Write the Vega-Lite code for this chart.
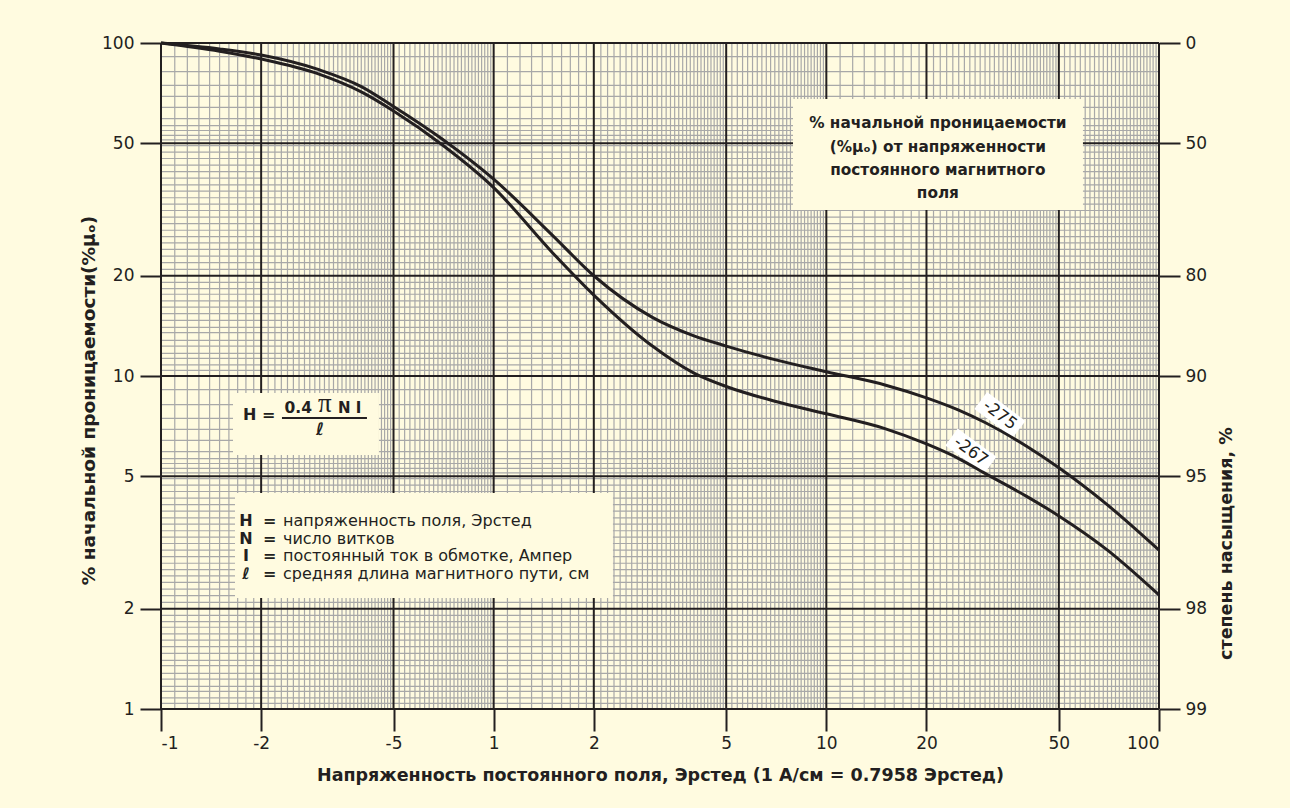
{
  "$schema": "https://vega.github.io/schema/vega-lite/v6.json",
  "width": 998,
  "height": 666,
  "autosize": {"type": "none"},
  "padding": {"left": 161, "top": 43, "right": 131, "bottom": 99},
  "background": "#fffbe0",
  "config": {
    "view": {"stroke": null},
    "font": "DejaVu Sans",
    "axis": {
      "labelFont": "DejaVu Sans",
      "labelFontSize": 17,
      "labelColor": "#231f20",
      "tickColor": "#231f20",
      "tickWidth": 2,
      "domain": false,
      "grid": false,
      "titleFont": "DejaVu Sans",
      "titleFontSize": 17.5,
      "titleFontWeight": "bold",
      "titleColor": "#231f20"
    }
  },
  "datasets": {
    "xminor": [0.11,0.12,0.13,0.14,0.15,0.16,0.17,0.18,0.19,0.21,0.22,0.23,0.24,0.25,0.26,0.27,0.28,0.29,0.3,0.31,0.32,0.33,0.34,0.35,0.36,0.37,0.38,0.39,0.4,0.41,0.42,0.43,0.44,0.45,0.46,0.47,0.48,0.49,0.52,0.54,0.56,0.58,0.6,0.62,0.64,0.66,0.68,0.7,0.72,0.74,0.76,0.78,0.8,0.82,0.84,0.86,0.88,0.9,0.92,0.94,0.96,0.98,
      1.1,1.2,1.3,1.4,1.5,1.6,1.7,1.8,1.9,2.1,2.2,2.3,2.4,2.5,2.6,2.7,2.8,2.9,3,3.1,3.2,3.3,3.4,3.5,3.6,3.7,3.8,3.9,4,4.1,4.2,4.3,4.4,4.5,4.6,4.7,4.8,4.9,5.2,5.4,5.6,5.8,6,6.2,6.4,6.6,6.8,7,7.2,7.4,7.6,7.8,8,8.2,8.4,8.6,8.8,9,9.2,9.4,9.6,9.8,
      11,12,13,14,15,16,17,18,19,21,22,23,24,25,26,27,28,29,30,31,32,33,34,35,36,37,38,39,40,41,42,43,44,45,46,47,48,49,52,54,56,58,60,62,64,66,68,70,72,74,76,78,80,82,84,86,88,90,92,94,96,98],
    "yminor": [1.04,1.08,1.13,1.17,1.23,1.28,1.35,1.4,1.47,1.54,1.61,1.68,1.76,1.83,1.91,
      2.09,2.19,2.29,2.4,2.51,2.62,2.74,2.87,3.0,3.14,3.28,3.43,3.59,3.75,3.93,4.11,4.3,4.5,4.7,4.92,
      5.12,5.28,5.46,5.65,5.93,6.41,6.91,7.46,8.2,9.1,
      10.4,10.8,11.3,11.7,12.3,12.8,13.5,14.0,14.7,15.4,16.1,16.8,17.6,18.3,19.1,
      20.9,21.9,22.9,24.0,25.1,26.2,27.4,28.7,30.0,31.4,32.8,34.3,35.9,37.5,39.3,41.1,43.0,45.0,47.0,49.2,
      51.2,52.8,54.6,56.5,59.3,64.1,69.1,74.6,82,91],
    "xmajor": [0.1,0.2,0.5,1,2,5,10,20,50,100],
    "ymajor": [1,2,5,10,20,50,100],
    "curves": [
      {"s": "-275", "h": 0.1, "mu": 100},
      {"s": "-275", "h": 0.15, "mu": 96},
      {"s": "-275", "h": 0.2, "mu": 92},
      {"s": "-275", "h": 0.3, "mu": 83},
      {"s": "-275", "h": 0.4, "mu": 74},
      {"s": "-275", "h": 0.5, "mu": 64.5},
      {"s": "-275", "h": 0.7, "mu": 51.5},
      {"s": "-275", "h": 1, "mu": 39},
      {"s": "-275", "h": 1.5, "mu": 26.5},
      {"s": "-275", "h": 2, "mu": 20},
      {"s": "-275", "h": 3, "mu": 15},
      {"s": "-275", "h": 4, "mu": 13.2},
      {"s": "-275", "h": 5, "mu": 12.3},
      {"s": "-275", "h": 7, "mu": 11.2},
      {"s": "-275", "h": 10, "mu": 10.3},
      {"s": "-275", "h": 15, "mu": 9.4},
      {"s": "-275", "h": 20, "mu": 8.6},
      {"s": "-275", "h": 25, "mu": 7.9},
      {"s": "-275", "h": 30, "mu": 7.25},
      {"s": "-275", "h": 40, "mu": 6.15},
      {"s": "-275", "h": 50, "mu": 5.3},
      {"s": "-275", "h": 70, "mu": 4.1},
      {"s": "-275", "h": 100, "mu": 3.0},
      {"s": "-267", "h": 0.1, "mu": 100},
      {"s": "-267", "h": 0.15, "mu": 94.5},
      {"s": "-267", "h": 0.2, "mu": 89.5},
      {"s": "-267", "h": 0.3, "mu": 80.5},
      {"s": "-267", "h": 0.4, "mu": 71.3},
      {"s": "-267", "h": 0.5, "mu": 62.5},
      {"s": "-267", "h": 0.7, "mu": 49.5},
      {"s": "-267", "h": 1, "mu": 36.8},
      {"s": "-267", "h": 1.5, "mu": 23.5},
      {"s": "-267", "h": 2, "mu": 17.5},
      {"s": "-267", "h": 3, "mu": 12.3},
      {"s": "-267", "h": 4, "mu": 10.2},
      {"s": "-267", "h": 5, "mu": 9.3},
      {"s": "-267", "h": 7, "mu": 8.4},
      {"s": "-267", "h": 10, "mu": 7.7},
      {"s": "-267", "h": 15, "mu": 6.95},
      {"s": "-267", "h": 20, "mu": 6.25},
      {"s": "-267", "h": 25, "mu": 5.65},
      {"s": "-267", "h": 30, "mu": 5.1},
      {"s": "-267", "h": 40, "mu": 4.35},
      {"s": "-267", "h": 50, "mu": 3.8},
      {"s": "-267", "h": 70, "mu": 3.0},
      {"s": "-267", "h": 100, "mu": 2.2}
    ]
  },
  "layer": [
    {
      "layer": [
        {
          "data": {"name": "xminor"},
          "mark": {"type": "rule", "color": "#a8a8a8", "strokeWidth": 1.2},
          "encoding": {
            "x": {"field": "data", "type": "quantitative", "scale": {"type": "log", "domain": [0.1, 100], "nice": false},
              "axis": {"values": [0.1,0.2,0.5,1,2,5,10,20,50,100], "tickSize": 22, "labelPadding": 4, "labelFontSize": 17,
                "labelExpr": "datum.value < 1 ? '-' + format(datum.value * 10, 'd') : format(datum.value, 'd')",
                "title": "Напряженность постоянного поля, Эрстед (1 А/см = 0.7958 Эрстед)",
                "titleY": 66, "titleBaseline": "middle"}}
          }
        },
        {
          "data": {"name": "yminor"},
          "mark": {"type": "rule", "color": "#a8a8a8", "strokeWidth": 1.2},
          "encoding": {
            "y": {"field": "data", "type": "quantitative", "scale": {"type": "log", "domain": [1, 100], "nice": false},
              "axis": {"values": [1,2,5,10,20,50,100], "tickSize": 21, "labelPadding": 6, "format": "d",
                "title": "% начальной проницаемости(%μₒ)",
                "titleX": -73, "titleY": 357, "titleBaseline": "middle", "titleAngle": 270, "titleFontSize": 18.5}}
          }
        },
        {
          "data": {"name": "xmajor"},
          "mark": {"type": "rule", "color": "#231f20", "strokeWidth": 2},
          "encoding": {"x": {"field": "data", "type": "quantitative"}}
        },
        {
          "data": {"name": "ymajor"},
          "mark": {"type": "rule", "color": "#231f20", "strokeWidth": 2},
          "encoding": {"y": {"field": "data", "type": "quantitative"}}
        },
        {
          "data": {"values": [{}]},
          "mark": {"type": "rect", "color": "#fffbe0"},
          "encoding": {
            "x": {"datum": 7.94, "type": "quantitative"}, "x2": {"datum": 59.07},
            "y": {"datum": 67.9, "type": "quantitative"}, "y2": {"datum": 31.5}
          }
        },
        {
          "data": {"values": [{}]},
          "mark": {"type": "rect", "color": "#fffbe0"},
          "encoding": {
            "x": {"datum": 0.1646, "type": "quantitative"}, "x2": {"datum": 0.452},
            "y": {"datum": 8.89, "type": "quantitative"}, "y2": {"datum": 5.79}
          }
        },
        {
          "data": {"values": [{}]},
          "mark": {"type": "rect", "color": "#fffbe0"},
          "encoding": {
            "x": {"datum": 0.1669, "type": "quantitative"}, "x2": {"datum": 2.283},
            "y": {"datum": 4.45, "type": "quantitative"}, "y2": {"datum": 2.154}
          }
        },
        {
          "data": {"values": [{}]},
          "mark": {"type": "text", "text": ["% начальной проницаемости", "(%μₒ) от напряженности", "постоянного магнитного", "поля"],
            "font": "DejaVu Sans", "fontSize": 15.3, "fontWeight": "bold", "color": "#231f20", "align": "center", "baseline": "top", "lineHeight": 23.3},
          "encoding": {"x": {"datum": 21.64, "type": "quantitative"}, "y": {"datum": 60.2, "type": "quantitative"}}
        },
        {
          "data": {"values": [{}]},
          "mark": {"type": "text", "text": "H =", "font": "DejaVu Sans", "fontSize": 16, "fontWeight": "bold", "color": "#231f20", "align": "left", "baseline": "middle"},
          "encoding": {"x": {"datum": 0.1764, "type": "quantitative"}, "y": {"datum": 7.64, "type": "quantitative"}}
        },
        {
          "data": {"values": [{}]},
          "mark": {"type": "text", "text": "0.4", "font": "DejaVu Sans", "fontSize": 15.5, "fontWeight": "bold", "color": "#231f20", "align": "right", "baseline": "middle"},
          "encoding": {"x": {"datum": 0.2844, "type": "quantitative"}, "y": {"datum": 8.01, "type": "quantitative"}}
        },
        {
          "data": {"values": [{}]},
          "mark": {"type": "text", "text": "π", "font": "Liberation Serif", "fontSize": 27, "color": "#231f20", "align": "center", "baseline": "middle"},
          "encoding": {"x": {"datum": 0.311, "type": "quantitative"}, "y": {"datum": 8.25, "type": "quantitative"}}
        },
        {
          "data": {"values": [{}]},
          "mark": {"type": "text", "text": "N I", "font": "DejaVu Sans", "fontSize": 15, "fontWeight": "bold", "color": "#231f20", "align": "left", "baseline": "middle"},
          "encoding": {"x": {"datum": 0.3404, "type": "quantitative"}, "y": {"datum": 8.01, "type": "quantitative"}}
        },
        {
          "data": {"values": [{}]},
          "mark": {"type": "rule", "color": "#231f20", "strokeWidth": 2},
          "encoding": {"x": {"datum": 0.231, "type": "quantitative"}, "x2": {"datum": 0.416}, "y": {"datum": 7.48, "type": "quantitative"}}
        },
        {
          "data": {"values": [{}]},
          "mark": {"type": "text", "text": "ℓ", "font": "DejaVu Sans", "fontSize": 17, "fontWeight": "bold", "fontStyle": "italic", "color": "#231f20", "align": "center", "baseline": "middle"},
          "encoding": {"x": {"datum": 0.3008, "type": "quantitative"}, "y": {"datum": 6.88, "type": "quantitative"}}
        },
        {
          "data": {"values": [{}]},
          "mark": {"type": "text", "text": ["H", "N", "I", "ℓ"], "font": "DejaVu Sans", "fontSize": 16, "fontWeight": "bold", "color": "#231f20", "align": "center", "baseline": "top", "lineHeight": 17.5},
          "encoding": {"x": {"datum": 0.18, "type": "quantitative"}, "y": {"datum": 3.87, "type": "quantitative"}}
        },
        {
          "data": {"values": [{}]},
          "mark": {"type": "text", "text": ["=", "=", "=", "="], "font": "DejaVu Sans", "fontSize": 16, "fontWeight": "bold", "color": "#231f20", "align": "left", "baseline": "top", "lineHeight": 17.5},
          "encoding": {"x": {"datum": 0.2025, "type": "quantitative"}, "y": {"datum": 3.87, "type": "quantitative"}}
        },
        {
          "data": {"values": [{}]},
          "mark": {"type": "text", "text": ["напряженность поля, Эрстед", "число витков", "постоянный ток в обмотке, Ампер", "средняя длина магнитного пути, см"], "font": "DejaVu Sans", "fontSize": 16, "color": "#231f20", "align": "left", "baseline": "top", "lineHeight": 17.5},
          "encoding": {"x": {"datum": 0.2326, "type": "quantitative"}, "y": {"datum": 3.87, "type": "quantitative"}}
        },
        {
          "data": {"values": [{}]},
          "mark": {"type": "point", "shape": "M-1,-0.44L1,-0.44L1,0.44L-1,0.44Z", "filled": true, "color": "#ffffff", "opacity": 1, "size": 2300, "angle": 37},
          "encoding": {"x": {"datum": 33.25, "type": "quantitative"}, "y": {"datum": 7.64, "type": "quantitative"}}
        },
        {
          "data": {"values": [{}]},
          "mark": {"type": "point", "shape": "M-1,-0.44L1,-0.44L1,0.44L-1,0.44Z", "filled": true, "color": "#ffffff", "opacity": 1, "size": 2300, "angle": 36},
          "encoding": {"x": {"datum": 27.2, "type": "quantitative"}, "y": {"datum": 5.95, "type": "quantitative"}}
        },
        {
          "data": {"values": [{}]},
          "mark": {"type": "text", "text": "-275", "font": "DejaVu Sans", "fontSize": 16.5, "color": "#231f20", "align": "center", "baseline": "middle", "angle": 37},
          "encoding": {"x": {"datum": 33.25, "type": "quantitative"}, "y": {"datum": 7.64, "type": "quantitative"}}
        },
        {
          "data": {"values": [{}]},
          "mark": {"type": "text", "text": "-267", "font": "DejaVu Sans", "fontSize": 16.5, "color": "#231f20", "align": "center", "baseline": "middle", "angle": 36},
          "encoding": {"x": {"datum": 27.2, "type": "quantitative"}, "y": {"datum": 5.95, "type": "quantitative"}}
        }
      ]
    },
    {
      "data": {"name": "curves"},
      "mark": {"type": "line", "color": "#231f20", "strokeWidth": 3, "interpolate": "monotone"},
      "encoding": {
        "x": {"field": "h", "type": "quantitative",
          "axis": {"values": [0.1,0.2,0.5,1,2,5,10,20,50,100], "tickSize": 22, "labelPadding": 4, "labelFontSize": 17,
            "labelExpr": "datum.value < 1 ? '-' + format(datum.value * 10, 'd') : format(datum.value, 'd')",
            "title": "Напряженность постоянного поля, Эрстед (1 А/см = 0.7958 Эрстед)",
            "titleY": 66, "titleBaseline": "middle"}},
        "y": {"field": "mu", "type": "quantitative",
          "axis": {"orient": "right", "values": [1,2,5,10,20,50,100], "tickSize": 21, "labelPadding": 5,
            "labelExpr": "format(100 - datum.value, 'd')",
            "title": "степень насыщения, %", "titleX": 67, "titleY": 500, "titleBaseline": "middle", "titleAngle": 270}},
        "detail": {"field": "s"}
      }
    }
  ],
  "resolve": {"axis": {"y": "independent"}}
}
